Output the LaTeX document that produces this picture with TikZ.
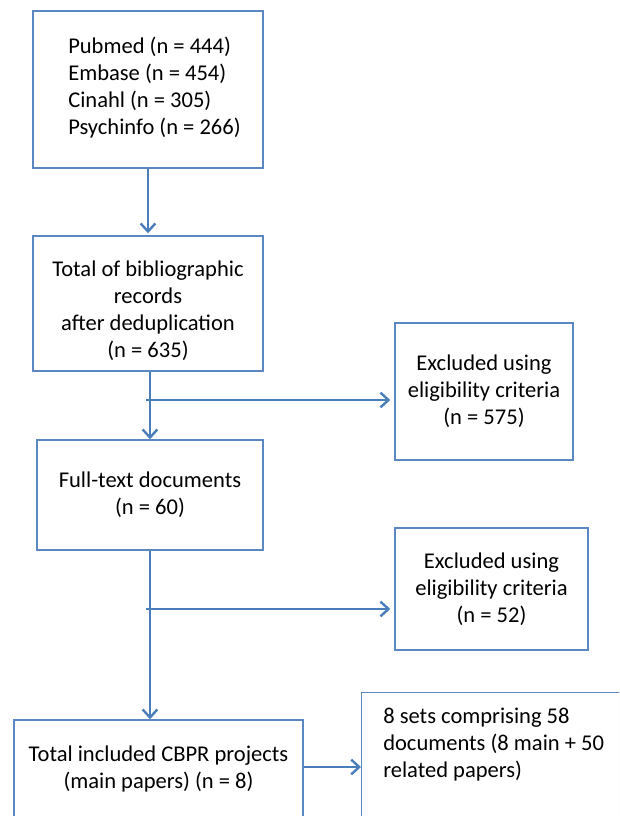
\documentclass[tikz,border=0pt]{standalone}
\usepackage{fontspec}
\setmainfont{Carlito}
\usetikzlibrary{arrows.meta,shadows}
\definecolor{boxblue}{HTML}{5B87C2}
\definecolor{arrblue}{HTML}{4A7EBB}
\begin{document}
\begin{tikzpicture}[x=0.75pt,y=-0.75pt,
  font=\fontsize{16.9pt}{20.25pt}\selectfont,
  box/.style={draw=boxblue,line width=1.1pt,fill=white,inner sep=0pt,align=center,
    drop shadow={opacity=0.2,shadow xshift=1pt,shadow yshift=-1pt}},
  txt/.style={inner sep=0pt,align=left},
  arr/.style={draw=arrblue,line width=2.2pt,-{Straight Barb[length=6pt,width=11pt,line width=1.8pt]}}]
\clip (0,0) rectangle (619,816);
\fill[white] (0,0) rectangle (619,816);

% Left column
\node[box,minimum width=172.5pt,minimum height=117.75pt] (src) at (148,89.5) {};
\node[txt,anchor=west] (src-txt) at (68,88) {Pubmed (n = 444)\\Embase (n = 454)\\Cinahl (n = 305)\\Psychinfo (n = 266)};
\node[box,minimum width=172.5pt,minimum height=101.25pt] (dedup) at (148,303.5)
  {\rule{0pt}{23pt}Total of bibliographic\\records\\after deduplication\\(n = 635)};
\node[box,minimum width=169.5pt,minimum height=82.5pt] (fulltext) at (150,495)
  {Full-text documents\\(n = 60)};
\node[box,minimum width=216.75pt,minimum height=73.5pt] (incl) at (158.5,769)
  {Total included CBPR projects\\(main papers) (n = 8)};

% Right column
\node[box,minimum width=133.5pt,minimum height=102.75pt] (excl1) at (484,391.5)
  {Excluded using\\eligibility criteria\\(n = 575)};
\node[box,minimum width=144.75pt,minimum height=91.5pt] (excl2) at (491.5,589)
  {Excluded using\\eligibility criteria\\(n = 52)};
\node[box,anchor=north west,minimum width=201.75pt,minimum height=111pt] (res) at (361,692) {};
\node[txt,anchor=west] (res-txt) at (383,745) {8 sets comprising 58\\documents (8 main + 50\\related papers)};

% Branch points
\coordinate (j1) at (146,400);
\coordinate (j2) at (146,609);

% Arrows
\draw[arr,shorten >=1.5pt] (src) -- (dedup);
\draw[arr] (dedup.south -| fulltext.north) -- (fulltext.north);
\draw[arr,shorten >=3pt] (j1) -- (j1 -| excl1.west);
\draw[arr] (fulltext.south) -- (fulltext.south |- incl.north);
\draw[arr,shorten >=3pt] (j2) -- (j2 -| excl2.west);
\draw[arr] (incl.east |- 0,767) -- (res.west |- 0,767);
\end{tikzpicture}
\end{document}
